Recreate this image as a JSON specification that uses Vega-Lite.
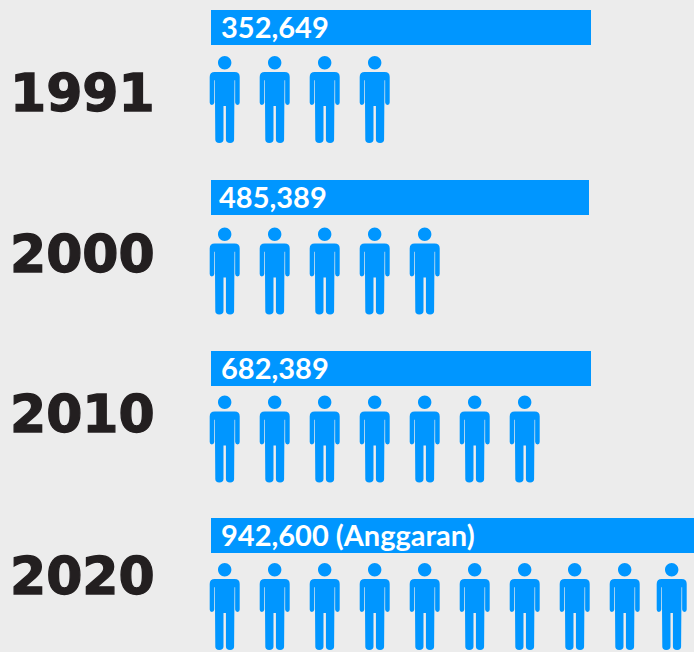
{
  "$schema": "https://vega.github.io/schema/vega-lite/v6.json",
  "width": 694,
  "height": 652,
  "padding": 0,
  "autosize": {"type": "none"},
  "background": "#ececec",
  "config": {"view": {"stroke": null}},
  "datasets": {
    "years": [
      {"year": 1991, "population": 352649, "label": "352,649"},
      {"year": 2000, "population": 485389, "label": "485,389"},
      {"year": 2010, "population": 682389, "label": "682,389"},
      {"year": 2020, "population": 942600, "label": "942,600 (Anggaran)"}
    ],
    "persons": [
      {"year": 1991, "person": 1}, {"year": 1991, "person": 2}, {"year": 1991, "person": 3}, {"year": 1991, "person": 4},
      {"year": 2000, "person": 1}, {"year": 2000, "person": 2}, {"year": 2000, "person": 3}, {"year": 2000, "person": 4}, {"year": 2000, "person": 5},
      {"year": 2010, "person": 1}, {"year": 2010, "person": 2}, {"year": 2010, "person": 3}, {"year": 2010, "person": 4}, {"year": 2010, "person": 5}, {"year": 2010, "person": 6}, {"year": 2010, "person": 7},
      {"year": 2020, "person": 1}, {"year": 2020, "person": 2}, {"year": 2020, "person": 3}, {"year": 2020, "person": 4}, {"year": 2020, "person": 5}, {"year": 2020, "person": 6}, {"year": 2020, "person": 7}, {"year": 2020, "person": 8}, {"year": 2020, "person": 9}, {"year": 2020, "person": 10}
    ]
  },
  "layer": [
    {
      "data": {"name": "years"},
      "mark": {"type": "bar", "orient": "horizontal", "size": 35, "color": "#0096ff", "clip": true},
      "encoding": {
        "x": {"field": "population", "type": "quantitative", "axis": null, "scale": {"domain": [0, 352649, 485389, 682389, 942600], "range": [211, 591, 589, 591, 694], "zero": false, "nice": false, "padding": 0}},
        "y": {"field": "year", "type": "quantitative", "axis": null, "scale": {"domain": [1991, 2000, 2010, 2020], "range": [27.5, 197.5, 368.5, 535.5], "zero": false, "nice": false, "padding": 0}}
      }
    },
    {
      "data": {"name": "years"},
      "mark": {"type": "text", "align": "left", "baseline": "middle", "font": "Lato", "fontWeight": 700, "fontSize": 29, "color": "#ffffff"},
      "encoding": {
        "x": {"field": "population", "type": "quantitative", "axis": null, "scale": {"domain": [352649, 485389, 682389, 942600], "range": [221, 219, 221, 221], "zero": false, "nice": false}},
        "y": {"field": "year", "type": "quantitative", "axis": null, "scale": {"domain": [1991, 2000, 2010, 2020], "range": [28.5, 198.5, 369.5, 536.5], "zero": false, "nice": false}},
        "text": {"field": "label", "type": "nominal"}
      }
    },
    {
      "data": {"name": "years"},
      "mark": {"type": "text", "align": "left", "baseline": "middle", "font": "DejaVu Sans", "fontWeight": "bold", "fontSize": 52, "color": "#231f20", "stroke": "#231f20", "strokeWidth": 1.3},
      "encoding": {
        "x": {"datum": 0, "type": "quantitative", "axis": null, "scale": {"domain": [0, 1], "range": [10, 11], "zero": false, "nice": false}},
        "y": {"field": "year", "type": "quantitative", "axis": null, "scale": {"domain": [1991, 2000, 2010, 2020], "range": [95, 256, 416, 578], "zero": false, "nice": false}},
        "text": {"field": "year", "type": "nominal"}
      }
    },
    {
      "data": {"name": "persons"},
      "mark": {
        "type": "point",
        "filled": true,
        "opacity": 1,
        "color": "#0096ff",
        "size": 7569,
        "shape": "M0,-1 A.154,.154 0 1 1 0,-.692 A.154,.154 0 1 1 0,-1 Z M-.23,-.632 L.23,-.632 Q.345,-.632 .345,-.517 L.345,.07 Q.345,.126 .295,.126 Q.245,.126 .24,.07 L.24,-.44 L.226,-.44 L.216,.92 Q.216,1 .125,1 Q.028,1 .028,.92 L.028,.15 L-.028,.15 L-.028,.92 Q-.028,1 -.125,1 Q-.216,1 -.216,.92 L-.226,-.44 L-.24,-.44 L-.24,.07 Q-.245,.126 -.295,.126 Q-.345,.126 -.345,.07 L-.345,-.517 Q-.345,-.632 -.23,-.632 Z"
      },
      "encoding": {
        "x": {"field": "person", "type": "quantitative", "axis": null, "scale": {"domain": [1, 9, 10], "range": [224.7, 624.7, 671.7], "zero": false, "nice": false}},
        "y": {"field": "year", "type": "quantitative", "axis": null, "scale": {"domain": [1991, 2000, 2010, 2020], "range": [99.5, 271, 439, 606.5], "zero": false, "nice": false}}
      }
    }
  ],
  "resolve": {"scale": {"x": "independent", "y": "independent"}}
}
